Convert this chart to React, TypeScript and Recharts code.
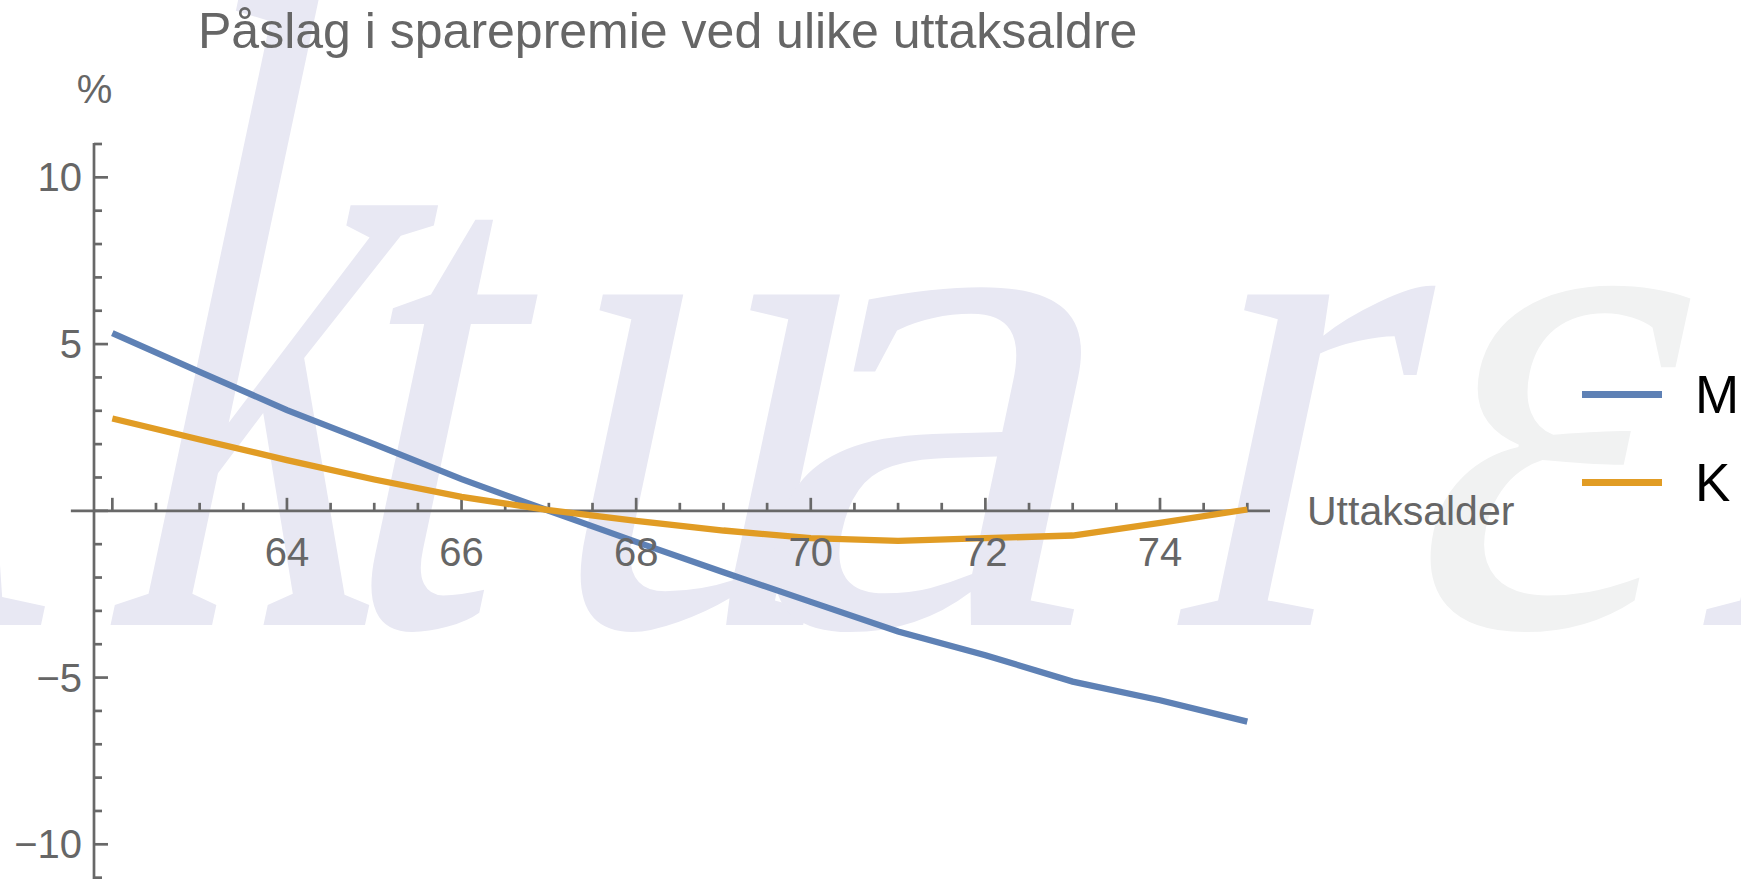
import React from "react";
import { LineChart, Line, XAxis, YAxis, ReferenceLine, Legend } from "recharts";

// ages (uttaksalder) and premium surcharge in %
const ages = [62, 63, 64, 65, 66, 67, 68, 69, 70, 71, 72, 73, 74, 75];
const mValues = [5.33, 4.17, 3.02, 2.0, 0.95, 0.0, -0.93, -1.84, -2.73, -3.62, -4.33, -5.12, -5.68, -6.32];
const kValues = [2.77, 2.14, 1.52, 0.94, 0.42, 0.02, -0.3, -0.59, -0.82, -0.9, -0.82, -0.74, -0.36, 0.04];

const legendOrder = ["M", "K"];

const xMajorTicks = [62, 64, 66, 68, 70, 72, 74];
const xMinorTicks = [62.5, 63, 63.5, 64.5, 65, 65.5, 66.5, 67, 67.5, 68.5, 69, 69.5, 70.5, 71, 71.5, 72.5, 73, 73.5, 74.5, 75];
const xLabelled = [64, 66, 68, 70, 72, 74];

const yTicks = [-11, -10, -9, -8, -7, -6, -5, -4, -3, -2, -1, 0, 1, 2, 3, 4, 5, 6, 7, 8, 9, 10, 11];
const yLabels: Record<number, string> = { 10: "10", 5: "5", [-5]: "\u22125", [-10]: "\u221210" };

const data = ages.map((age, i) => ({ age, M: mValues[i], K: kValues[i] }));

const axisColor = "#686868";
const textColor = "#666666";
const font = "'Liberation Sans', Arial, Helvetica, sans-serif";

const YTick = (props: any) => {
  const { x, y, payload } = props;
  const v = payload.value;
  const major = v % 5 === 0;
  return (
    <g>
      <line x1={x} x2={x + (major ? 14 : 8)} y1={y} y2={y} stroke={axisColor} strokeWidth={2.7} />
      {yLabels[v] && (
        <text x={x - 12} y={y} dy={14} textAnchor="end" fill={textColor} fontSize={40} fontFamily={font}>
          {yLabels[v]}
        </text>
      )}
    </g>
  );
};

const renderLegend = (props: any) => {
  const payload = [...(props.payload || [])].sort(
    (a: any, b: any) => legendOrder.indexOf(a.value) - legendOrder.indexOf(b.value)
  );
  return (
    <div>
      {payload.map((entry: any) => (
        <div key={entry.value} style={{ display: "flex", alignItems: "center", height: 88 }}>
          <div style={{ width: 80, height: 7, background: entry.color }} />
          <span style={{ marginLeft: 33, fontSize: 53, lineHeight: 1, color: "#000", fontFamily: font }}>
            {entry.value}
          </span>
        </div>
      ))}
    </div>
  );
};

// faint logo watermark behind the plot
const wmLetters = [
  { ch: "A", x: -345, sx: 0.75, sy: 1.0, fill: "#e8e8f3" },
  { ch: "k", x: 95, sx: 0.75, sy: 1.27, fill: "#e8e8f3" },
  { ch: "t", x: 320, sx: 0.8, sy: 1.0, fill: "#e8e8f3" },
  { ch: "u", x: 525, sx: 0.8, sy: 1.0, fill: "#e8e8f3" },
  { ch: "a", x: 730, sx: 1.1, sy: 1.0, fill: "#e8e8f3" },
  { ch: "r", x: 1165, sx: 0.85, sy: 1.0, fill: "#e8e8f3" },
  { ch: "ε", x: 1390, sx: 0.85, sy: 1.0, fill: "#f1f2f2" },
  { ch: "n", x: 1690, sx: 0.8, sy: 1.0, fill: "#e8e8f3" },
];

const Watermark = () => (
  <svg width={1741} height={879} style={{ position: "absolute", left: 0, top: 0 }}>
    <g fontFamily="'Liberation Serif', 'DejaVu Serif', serif" fontSize={720}>
      {wmLetters.map((l) => (
        <text
          key={l.ch + l.x}
          x={0}
          y={0}
          fill={l.fill}
          transform={`translate(${l.x},625) skewX(-12) scale(${l.sx},${l.sy})`}
        >
          {l.ch}
        </text>
      ))}
    </g>
  </svg>
);

export default function App() {
  return (
    <div style={{ position: "relative", width: 1741, height: 879, overflow: "hidden", background: "#fff" }}>
      <style>{"body{margin:0;overflow:hidden}"}</style>
      <Watermark />
      <div style={{ position: "absolute", left: 0, top: 0 }}>
        <LineChart width={1741} height={879} data={data} margin={{ top: 143, right: 471, bottom: 0, left: 0 }}>
          <XAxis dataKey="age" type="number" domain={[61.79, 75.26]} hide allowDataOverflow />
          <YAxis
            type="number"
            domain={[-11.04, 11.03]}
            ticks={yTicks}
            interval={0}
            width={94}
            tickSize={0}
            tickMargin={0}
            tickLine={false}
            axisLine={{ stroke: axisColor, strokeWidth: 2.7 }}
            tick={<YTick />}
            allowDataOverflow
          />
          <ReferenceLine
            segment={[{ x: 61.525, y: 0 }, { x: 75.26, y: 0 }]}
            stroke={axisColor}
            strokeWidth={2.7}
            ifOverflow="visible"
            label={{ value: "Uttaksalder", position: "right", offset: 37, fill: textColor, fontSize: 41, fontFamily: font }}
          />
          {xMajorTicks.map((t) => (
            <ReferenceLine
              key={"M" + t}
              segment={[{ x: t, y: 0 }, { x: t, y: 0.39 }]}
              stroke={axisColor}
              strokeWidth={2.7}
              ifOverflow="visible"
              label={
                xLabelled.includes(t)
                  ? { value: String(t), position: "bottom", offset: 27, fill: textColor, fontSize: 40, fontFamily: font }
                  : undefined
              }
            />
          ))}
          {xMinorTicks.map((t) => (
            <ReferenceLine
              key={"m" + t}
              segment={[{ x: t, y: 0 }, { x: t, y: 0.24 }]}
              stroke={axisColor}
              strokeWidth={2.7}
              ifOverflow="visible"
            />
          ))}
          <Line
            type="linear"
            dataKey="M"
            name="M"
            stroke="#5e81b5"
            strokeWidth={6.3}
            dot={false}
            activeDot={false}
            isAnimationActive={false}
          />
          <Line
            type="linear"
            dataKey="K"
            name="K"
            stroke="#e19c24"
            strokeWidth={6.3}
            dot={false}
            activeDot={false}
            isAnimationActive={false}
          />
          <Legend
            layout="vertical"
            align="center"
            verticalAlign="middle"
            content={renderLegend}
            wrapperStyle={{ left: 1582, top: 350.5, width: 159, overflow: "hidden" }}
          />
        </LineChart>
      </div>
      <svg width={1741} height={879} style={{ position: "absolute", left: 0, top: 0, pointerEvents: "none" }}>
        <text x={198} y={48} fill={textColor} fontSize={50} fontFamily={font}>
          Påslag i sparepremie ved ulike uttaksaldre
        </text>
        <text x={94.5} y={103} textAnchor="middle" fill={textColor} fontSize={40} fontFamily={font}>
          %
        </text>
      </svg>
    </div>
  );
}
